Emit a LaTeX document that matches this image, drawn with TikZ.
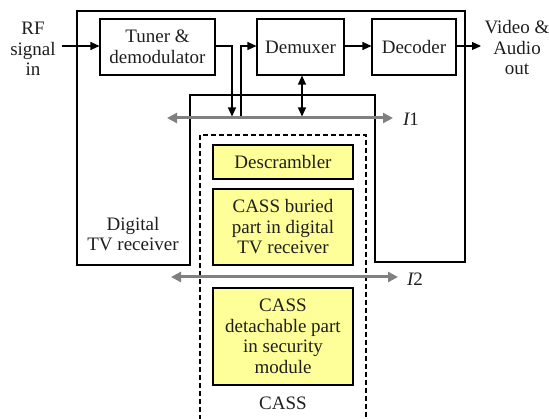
\documentclass[tikz,border=0pt]{standalone}
\usepackage{fontspec}
\setmainfont{Liberation Serif}
\usetikzlibrary{arrows.meta}
\definecolor{casyellow}{RGB}{255,255,153}
\definecolor{busgray}{RGB}{128,128,128}
\definecolor{ink}{RGB}{30,30,30}
\begin{document}
\begin{tikzpicture}[x=1pt,y=-1pt,
  txt/.style={font=\fontsize{19}{20.5}\selectfont, text=ink, align=center, inner sep=0pt},
  blk/.style={txt, draw, line width=1.1pt},
  ybox/.style={blk, fill=casyellow},
  sig/.style={line width=1.1pt, -{Triangle[length=9pt,width=8pt]}},
  dsig/.style={line width=1.1pt, {Triangle[length=9pt,width=8pt]}-{Triangle[length=9pt,width=8pt]}},
  bus/.style={line width=3pt, draw=busgray, {Triangle[length=10pt,width=10pt]}-{Triangle[length=10pt,width=10pt]}}]
\useasboundingbox (0,0) rectangle (549,419);

% receiver outline
\draw[line width=1.1pt] (77,11) -- (465,11) -- (465,262) -- (375,262) -- (375,95)
  -- (190,95) -- (190,265) -- (77,265) -- cycle;

% CASS dashed boundary
\draw[line width=1.1pt, dash pattern=on 5pt off 3pt] (200,420) -- (200,135) -- (366,135) -- (366,420);

% blocks
\node[blk, minimum width=115pt, minimum height=56pt] (tuner) at (157.5,47) {Tuner \&\\demodulator};
\node[blk, minimum width=87pt, minimum height=56pt] (demux) at (300.5,47) {Demuxer};
\node[blk, minimum width=84pt, minimum height=56pt] (dec) at (414,47) {Decoder};
\node[ybox, minimum width=140pt, minimum height=34pt] (desc) at (283,162) {Descrambler};
\node[ybox, minimum width=140pt, minimum height=76pt] (buried) at (283,227) {CASS buried\\part in digital\\TV receiver};
\node[ybox, minimum width=140pt, minimum height=97pt] (detach) at (283,336.5) {CASS\\detachable part\\in security\\module};

% labels
\node[txt] (rf) at (33,49) {RF\\signal\\in};
\node[txt] (out) at (517,48) {Video \&\\Audio\\out};
\node[txt] (dtv) at (133,234) {Digital\\TV receiver};
\node[txt] (cass) at (283,403) {CASS};
\node[txt] (ione) at (411,119) {\itshape I\upshape 1};
\node[txt] (itwo) at (415,279) {\itshape I\upshape 2};

% bus lines
\coordinate (b1l) at (167,118);
\coordinate (b1r) at (393,118);
\coordinate (b2l) at (171,277);
\coordinate (b2r) at (398,277);
\draw[bus] (b1l) -- (b1r);
\draw[bus] (b2l) -- (b2r);

% signal arrows
\coordinate (rfstart) at (62,46);
\draw[sig] (rfstart) -- (tuner.west |- rfstart);
\coordinate (outend) at (481,46);
\draw[sig] (dec.east |- outend) -- (outend);
\draw[sig] (demux.east |- 0,46) -- (dec.west |- 0,46);
\coordinate (tdown) at (232,116.5);
\draw[sig] (tuner.east |- 0,46) -| (tdown);
\coordinate (dup) at (241,116.5);
\draw[sig] (dup) |- (demux.west |- 0,46);
\coordinate (dmx) at (302,116.5);
\draw[dsig] (demux.south -| dmx) -- (dmx);
\end{tikzpicture}
\end{document}
